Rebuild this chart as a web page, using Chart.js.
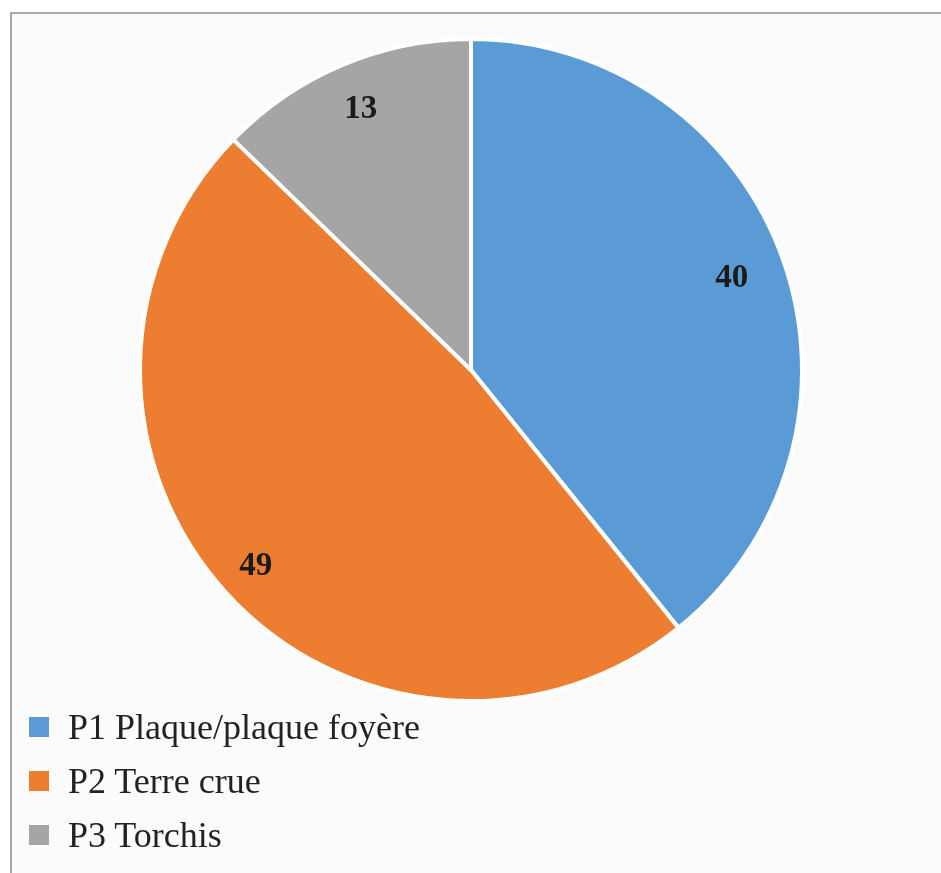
<!DOCTYPE html>
<html>
<head>
<meta charset="utf-8">
<script src="https://cdn.jsdelivr.net/npm/chart.js@4/dist/chart.umd.min.js"></script>
<style>
  html, body { margin: 0; padding: 0; background: #fff; overflow: hidden; }
  #frame {
    position: absolute; left: 10px; top: 12px; width: 960px; height: 900px;
    border: 2px solid #a9a9a9; background: #fbfbfb;
  }
  #wrap { position: absolute; left: 0; top: 0; width: 941px; height: 873px; }
  #legend {
    position: absolute; left: 29px; top: 700px;
    font-family: "Liberation Serif", "Times New Roman", serif; font-size: 36px; color: #222;
  }
  .item { display: flex; align-items: center; height: 54px; }
  .swatch { width: 20px; height: 20px; margin-right: 19px; margin-top: 0; }
</style>
</head>
<body>
<div id="frame"></div>
<div id="wrap"><canvas id="pie" width="941" height="873"></canvas></div>
<div id="legend"></div>
<script>
// ── Data ───────────────────────────────────────────────
const labels = ['P1 Plaque/plaque foyère', 'P2 Terre crue', 'P3 Torchis'];
const values = [40, 49, 13];
const colors = ['#5b9bd5', '#ed7d31', '#a5a5a5'];

// how far out (fraction of radius) each value label sits
const labelReach = [0.835, 0.88, 0.855];

// ── Value labels inside slices ─────────────────────────
const sliceLabels = {
  id: 'sliceLabels',
  afterDatasetsDraw(chart) {
    const ctx = chart.ctx;
    const meta = chart.getDatasetMeta(0);
    ctx.save();
    ctx.font = 'bold 33px "Liberation Serif", serif';
    ctx.fillStyle = '#1a1a1a';
    ctx.textAlign = 'center';
    ctx.textBaseline = 'middle';
    meta.data.forEach((arc, i) => {
      const { x, y, startAngle, endAngle, outerRadius } = arc.getProps(['x', 'y', 'startAngle', 'endAngle', 'outerRadius'], true);
      const mid = (startAngle + endAngle) / 2;
      const r = outerRadius * labelReach[i];
      ctx.fillText(String(values[i]), x + Math.cos(mid) * r, y + Math.sin(mid) * r);
    });
    ctx.restore();
  },
};

new Chart(document.getElementById('pie'), {
  type: 'pie',
  data: {
    labels,
    datasets: [{
      data: values,
      backgroundColor: colors,
      borderColor: '#ffffff',
      borderWidth: 4,
    }],
  },
  options: {
    responsive: false,
    animation: false,
    layout: { padding: { left: 138, right: 137, top: 37, bottom: 170 } },
    plugins: { legend: { display: false }, tooltip: { enabled: false } },
  },
  plugins: [sliceLabels],
});

// ── Legend ─────────────────────────────────────────────
document.getElementById('legend').innerHTML = labels.map((l, i) => `
  <div class="item"><span class="swatch" style="background:${colors[i]}"></span>${l}</div>
`).join('');
</script>
</body>
</html>
